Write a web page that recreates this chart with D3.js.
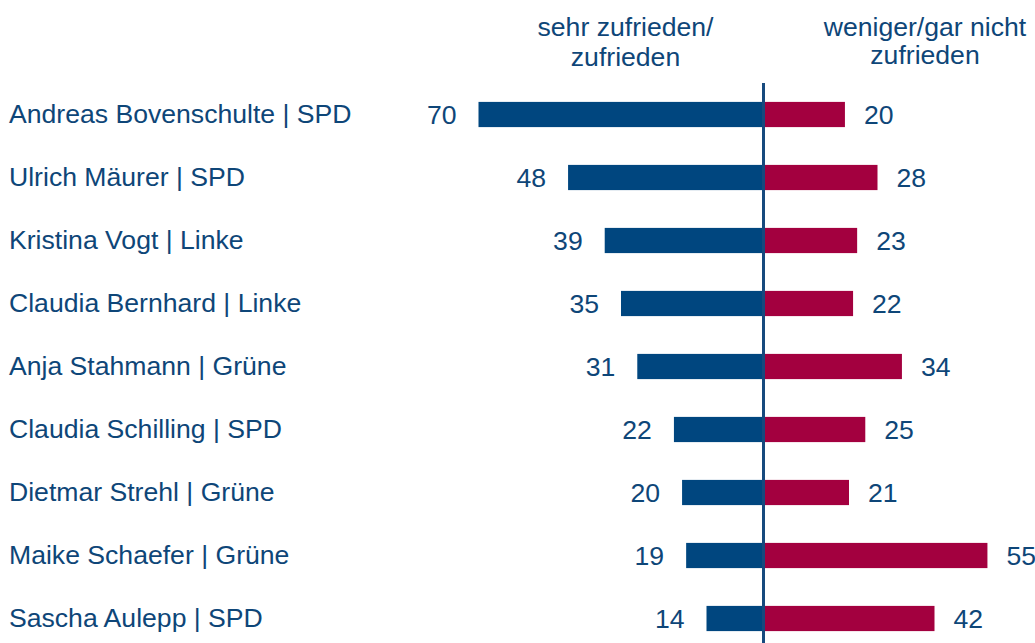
<!DOCTYPE html>
<html>
<head>
<meta charset="utf-8">
<script src="https://cdn.jsdelivr.net/npm/d3@7"></script>
<style>
	body {
		margin: 0;
		background: #fff;
	}
	text {
		font-family: "Liberation Sans", Arial, sans-serif;
	}
</style>
</head>
<body>
<div id="chart"></div>
<script>
var names = [
	"Andreas Bovenschulte | SPD",
	"Ulrich Mäurer | SPD",
	"Kristina Vogt | Linke",
	"Claudia Bernhard | Linke",
	"Anja Stahmann | Grüne",
	"Claudia Schilling | SPD",
	"Dietmar Strehl | Grüne",
	"Maike Schaefer | Grüne",
	"Sascha Aulepp | SPD",
];
var zufrieden = [70, 48, 39, 35, 31, 22, 20, 19, 14];
var nichtZufrieden = [20, 28, 23, 22, 34, 25, 21, 55, 42];
var headLeft = ["sehr zufrieden/", "zufrieden"];
var headRight = ["weniger/gar nicht", "zufrieden"];

var width = 1035,
	height = 643;
var center = 763.5;
var fontSize = 26.6;
var textColor = "#0e4678";

var svg = d3
	.select("#chart")
	.append("svg")
	.attr("width", width)
	.attr("height", height);

var y = d3
	.scaleBand()
	.domain(names)
	.range([83, 650])
	.paddingInner(0.6)
	.paddingOuter(0.3);

// one unit is about 4.07 px
var x = d3.scaleLinear().domain([0, 70]).range([0, 285]);

var rows = names.map(function (n, i) {
	return { name: n, left: zufrieden[i], right: nichtZufrieden[i] };
});

// names on the left
svg
	.selectAll(".name")
	.data(rows)
	.enter()
	.append("text")
	.attr("class", "name")
	.attr("x", 9)
	.attr("y", function (d) {
		return y(d.name) + y.bandwidth() / 2 - 1;
	})
	.attr("dy", "0.35em")
	.attr("font-size", fontSize)
	.attr("fill", textColor)
	.text(function (d) {
		return d.name;
	});

svg
	.selectAll(".barL")
	.data(rows)
	.enter()
	.append("rect")
	.attr("class", "barL")
	.attr("x", function (d) {
		return center - x(d.left);
	})
	.attr("y", function (d) {
		return y(d.name);
	})
	.attr("width", function (d) {
		return x(d.left);
	})
	.attr("height", y.bandwidth())
	.attr("fill", "#00467f");

svg
	.selectAll(".barR")
	.data(rows)
	.enter()
	.append("rect")
	.attr("class", "barR")
	.attr("x", center)
	.attr("y", function (d) {
		return y(d.name);
	})
	.attr("width", function (d) {
		return x(d.right);
	})
	.attr("height", y.bandwidth())
	.attr("fill", "#a3003f");

svg
	.selectAll(".valL")
	.data(rows)
	.enter()
	.append("text")
	.attr("class", "valL")
	.attr("x", function (d) {
		return center - x(d.left) - 22;
	})
	.attr("y", function (d) {
		return y(d.name) + y.bandwidth() / 2;
	})
	.attr("dy", "0.35em")
	.attr("text-anchor", "end")
	.attr("font-size", fontSize)
	.attr("fill", textColor)
	.text(function (d) {
		return d.left;
	});

svg
	.selectAll(".valR")
	.data(rows)
	.enter()
	.append("text")
	.attr("class", "valR")
	.attr("x", function (d) {
		return center + x(d.right) + 19;
	})
	.attr("y", function (d) {
		return y(d.name) + y.bandwidth() / 2;
	})
	.attr("dy", "0.35em")
	.attr("font-size", fontSize)
	.attr("fill", textColor)
	.text(function (d) {
		return d.right;
	});

// the zero line
svg
	.append("line")
	.attr("x1", center)
	.attr("x2", center)
	.attr("y1", 83)
	.attr("y2", height)
	.attr("stroke", "#174a7e")
	.attr("stroke-width", 3);

// column heads
svg
	.selectAll(".headL")
	.data(headLeft)
	.enter()
	.append("text")
	.attr("x", 625.5)
	.attr("y", function (d, i) {
		return 36 + i * 30;
	})
	.attr("text-anchor", "middle")
	.attr("font-size", fontSize)
	.attr("fill", textColor)
	.text(function (d) {
		return d;
	});

svg
	.selectAll(".headR")
	.data(headRight)
	.enter()
	.append("text")
	.attr("x", 925)
	.attr("y", function (d, i) {
		return 36 + i * 28;
	})
	.attr("text-anchor", "middle")
	.attr("font-size", fontSize)
	.attr("fill", textColor)
	.text(function (d) {
		return d;
	});
</script>
</body>
</html>
